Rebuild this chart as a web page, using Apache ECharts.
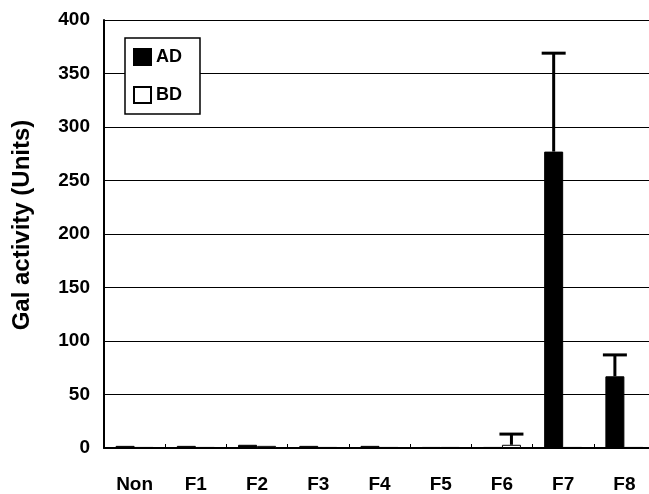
<!DOCTYPE html>
<html><head><meta charset="utf-8">
<script src="https://cdn.jsdelivr.net/npm/echarts@6/dist/echarts.min.js"></script>
<style>html,body{margin:0;padding:0;background:#fff;overflow:hidden}#c{width:655px;height:494px}</style>
</head><body><div id="c"></div>
<script>
var categories = ['Non','F1','F2','F3','F4','F5','F6','F7','F8'];
var adValues = [2, 2, 3, 2, 2, 1, 1, 277, 67];
var bdValues = [1, 1, 2, 1, 1, 1, 3, 1, 1];
var adErrTop = [null, null, null, null, null, null, null, 369, 87];
var bdErrTop = [null, null, null, null, null, null, 13, null, null];
var yTicks = [0, 50, 100, 150, 200, 250, 300, 350, 400];

var FONT = 'Liberation Sans, Arial, sans-serif';
var BAR_W = 19;
function errSeries(vals, tops, side) {
  var data = [];
  for (var i = 0; i < tops.length; i++) if (tops[i] != null) data.push([i, vals[i], tops[i]]);
  return {
    type: 'custom', z: 5,
    renderItem: function (params, api) {
      var b = api.coord([api.value(0), api.value(1)]);
      var t = api.coord([api.value(0), api.value(2)]);
      var x = b[0] + side * BAR_W / 2;
      return { type: 'group', children: [
        { type: 'line', shape: { x1: x, y1: b[1], x2: x, y2: t[1] }, style: { stroke: '#000', lineWidth: 3 } },
        { type: 'line', shape: { x1: x - 12, y1: t[1], x2: x + 12, y2: t[1] }, style: { stroke: '#000', lineWidth: 3 } }
      ]};
    },
    data: data
  };
}

var chart = echarts.init(document.getElementById('c'));
chart.setOption({
  animation: false,
  grid: { left: 104, top: 20, right: 0, bottom: 45, containLabel: false },
  legend: {
    left: 125, top: 38, orient: 'vertical', itemGap: 20,
    padding: [10, 18, 10, 8],
    borderColor: '#000', borderWidth: 1.5, backgroundColor: '#fff',
    itemWidth: 17, itemHeight: 16, icon: 'rect',
    textStyle: { fontFamily: FONT, fontWeight: 'bold', fontSize: 18, color: '#000' },
    data: ['AD', 'BD']
  },
  xAxis: {
    type: 'category', data: categories,
    axisLine: { lineStyle: { color: '#000', width: 2 } },
    axisTick: { show: true, inside: true, length: 4, lineStyle: { color: '#000' } },
    axisLabel: { margin: 27, fontFamily: FONT, fontWeight: 'bold', fontSize: 19, color: '#000' }
  },
  yAxis: {
    type: 'value', min: yTicks[0], max: yTicks[yTicks.length - 1], interval: 50,
    name: 'Gal activity (Units)', nameLocation: 'middle', nameGap: 70, nameRotate: 90,
    nameTextStyle: { fontFamily: FONT, fontWeight: 'bold', fontSize: 24, color: '#000', padding: [0, 0, 0, 18] },
    axisLine: { show: true, lineStyle: { color: '#000', width: 2 } },
    axisTick: { show: false },
    splitLine: { show: true, lineStyle: { color: '#000', width: 1.2 } },
    axisLabel: { margin: 14, fontFamily: FONT, fontWeight: 'bold', fontSize: 19, color: '#000' }
  },
  series: [
    { name: 'AD', type: 'bar', data: adValues, barWidth: BAR_W, barGap: '0%',
      itemStyle: { color: '#000', borderColor: '#000', borderWidth: 1 } },
    { name: 'BD', type: 'bar', data: bdValues, barWidth: BAR_W, barGap: '0%',
      itemStyle: { color: '#fff', borderColor: '#000', borderWidth: 1 } },
    errSeries(adValues, adErrTop, -1),
    errSeries(bdValues, bdErrTop, 1)
  ]
});
</script></body></html>
